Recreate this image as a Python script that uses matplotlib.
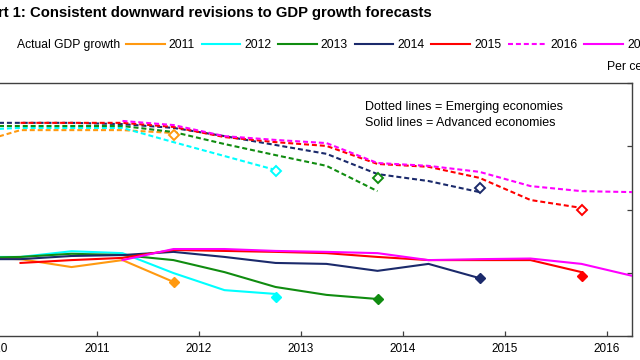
import matplotlib
matplotlib.use("Agg")
import matplotlib.pyplot as plt
from matplotlib.lines import Line2D

plt.rcParams['font.family'] = ['Liberation Sans', 'DejaVu Sans']

# ---- data (per cent) ----
years = ["2011", "2012", "2013", "2014", "2015", "2016"]
colors = ["#FF9910", "#00FFFF", "#108C10", "#1B2A6B", "#FF0000", "#FF00FF"]

# Emerging economies forecasts (dashed)
em_dates = {
    "2011": [2009.75, 2010.25, 2010.75, 2011.25, 2011.75],
    "2012": [2009.75, 2010.25, 2010.75, 2011.25, 2011.75, 2012.25, 2012.75],
    "2013": [2009.75, 2010.25, 2010.75, 2011.25, 2011.75, 2012.25, 2012.75, 2013.25, 2013.75],
    "2014": [2009.75, 2010.25, 2010.75, 2011.25, 2011.75, 2012.25, 2012.75, 2013.25, 2013.75,
             2014.25, 2014.75],
    "2015": [2010.25, 2010.75, 2011.25, 2011.75, 2012.25, 2012.75, 2013.25, 2013.75, 2014.25,
             2014.75, 2015.25, 2015.75],
    "2016": [2011.25, 2011.75, 2012.25, 2012.75, 2013.25, 2013.75, 2014.25, 2014.75, 2015.25,
             2015.75, 2016.25],
}
em_values = {
    "2011": [6.04, 6.51, 6.51, 6.51, 6.42],
    "2012": [6.51, 6.58, 6.58, 6.58, 6.13, 5.69, 5.25],
    "2013": [6.64, 6.64, 6.64, 6.64, 6.45, 6.07, 5.72, 5.38, 4.58],
    "2014": [6.74, 6.74, 6.74, 6.70, 6.58, 6.32, 6.04, 5.76, 5.12, 4.90, 4.55],
    "2015": [6.74, 6.74, 6.74, 6.61, 6.29, 6.13, 6.01, 5.44, 5.35, 5.00, 4.30, 4.05],
    "2016": [6.80, 6.67, 6.32, 6.20, 6.10, 5.47, 5.38, 5.19, 4.74, 4.58, 4.55],
}
em_actual = {"2011": 6.36, "2012": 5.22, "2013": 5.00, "2014": 4.68, "2015": 4.00}

# Advanced economies forecasts (solid)
ad_dates = em_dates
ad_values = {
    "2011": [2.47, 2.43, 2.18, 2.40, 1.71],
    "2012": [2.50, 2.50, 2.68, 2.62, 1.99, 1.45, 1.33],
    "2013": [2.47, 2.50, 2.60, 2.56, 2.40, 2.02, 1.55, 1.30, 1.17],
    "2014": [2.43, 2.43, 2.53, 2.56, 2.66, 2.50, 2.31, 2.28, 2.06, 2.28, 1.83],
    "2015": [2.31, 2.40, 2.47, 2.72, 2.69, 2.66, 2.62, 2.50, 2.40, 2.40, 2.40, 2.02],
    "2016": [2.40, 2.75, 2.75, 2.69, 2.66, 2.62, 2.40, 2.43, 2.45, 2.28, 1.90],
}
ad_actual = {"2011": 1.71, "2012": 1.23, "2013": 1.17, "2014": 1.83, "2015": 1.90}

x_ticks = [2010, 2011, 2012, 2013, 2014, 2015, 2016]
y_ticks = [0, 2, 4, 6, 8]

# ---- figure ----
fig = plt.figure(figsize=(6.4, 3.6), dpi=100)
ax = fig.add_axes([-50.9 / 640, 24 / 360, 682.9 / 640, 253 / 360])

dash = (0, (2.4, 1.4))
handles = {}
for yr, col in zip(years, colors):
    d = em_dates[yr]
    ax.plot(d, em_values[yr], color=col, lw=1.5, linestyle=dash,
            dash_capstyle='butt', zorder=3)
    if yr in em_actual:
        ax.plot([d[-1]], [em_actual[yr]], marker='D', ms=5.5, mfc='white',
                mec=col, mew=1.4, linestyle='none', zorder=4)
for yr, col in zip(years, colors):
    d = ad_dates[yr]
    h, = ax.plot(d, ad_values[yr], color=col, lw=1.5, solid_joinstyle='round', zorder=3)
    handles[yr] = h
    if yr in ad_actual:
        ax.plot([d[-1]], [ad_actual[yr]], marker='D', ms=5.5, mfc=col,
                mec=col, linestyle='none', zorder=4)

ax.set_xlim(2009.55, 2016.245)
ax.set_ylim(0, 8)
ax.set_xticks(x_ticks)
ax.set_xticklabels([str(t) for t in x_ticks])
ax.set_yticks(y_ticks)
ax.yaxis.tick_right()
ax.tick_params(axis='both', direction='in', length=3.5, width=0.9, color='#404040',
               labelsize=8.5, pad=5)
ax.tick_params(axis='y', pad=12)
for s in ['top', 'right', 'bottom', 'left']:
    ax.spines[s].set_color('#404040')
    ax.spines[s].set_linewidth(1.0)

# annotation
ax.text(365 / 640, 1 - 107 / 360, "Dotted lines = Emerging economies",
        transform=fig.transFigure, fontsize=9, va='center', ha='left')
ax.text(365 / 640, 1 - 123 / 360, "Solid lines = Advanced economies",
        transform=fig.transFigure, fontsize=9, va='center', ha='left')

# title
fig.text(-30 / 640, 1 - 17.5 / 360,
         "Chart 1: Consistent downward revisions to GDP growth forecasts",
         fontsize=10.75, fontweight='bold', va='baseline', ha='left')

# legend
fig.text(17 / 640, 1 - 45 / 360, "Actual GDP growth", fontsize=8.7, va='center', ha='left')
leg_handles = [handles[y] for y in years[:5]]
leg_handles.append(Line2D([], [], color=colors[5], lw=1.5, linestyle=dash))
leg_handles.append(handles["2016"])
leg_labels = years[:5] + ["2016", "2016"]
fig.legend(leg_handles, leg_labels, loc='center left',
           bbox_to_anchor=(126 / 640, 1 - 45 / 360), ncol=7, frameon=False,
           fontsize=8.7, handlelength=3.2, handletextpad=0.33, columnspacing=0.56,
           borderpad=0, borderaxespad=0)

fig.text(607 / 640, 1 - 67 / 360, "Per cent", fontsize=8.7, va='center', ha='left')

fig.savefig("out.png", dpi=100)
